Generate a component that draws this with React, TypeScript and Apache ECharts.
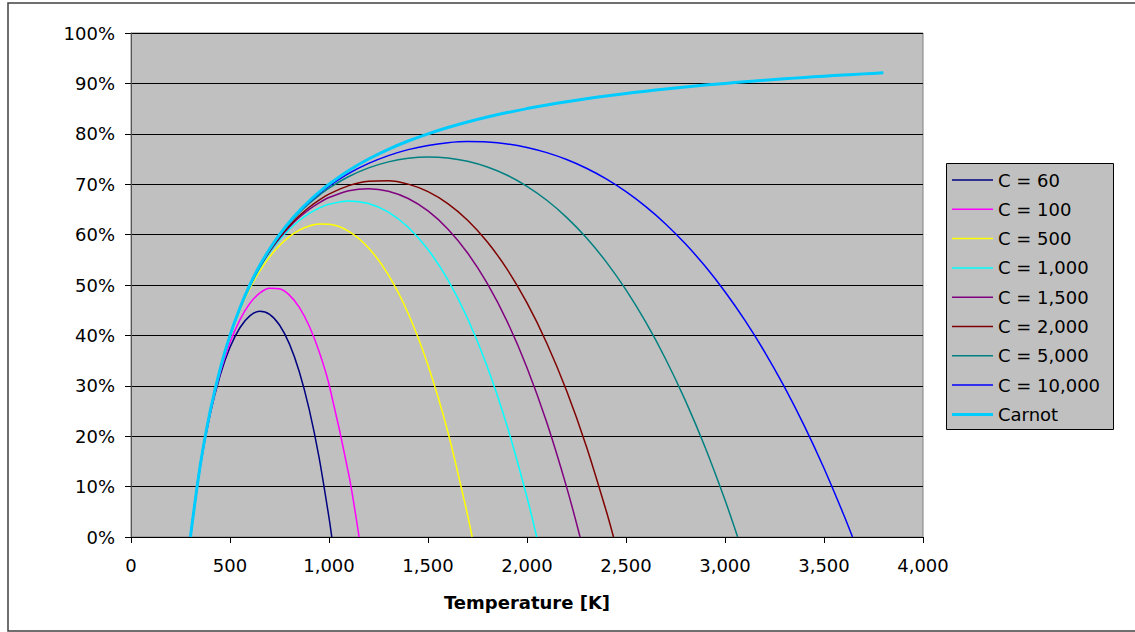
import React, { useEffect, useRef } from "react";
import * as echarts from "echarts";

const temps = [300, 350, 400, 450, 500, 550, 600, 650, 700, 750, 800, 850, 900, 950, 1000,
  1100, 1200, 1300, 1400, 1500, 1600, 1700, 1800, 1900, 2000, 2100, 2200, 2300, 2400, 2500,
  2600, 2700, 2800, 2900, 3000, 3100, 3200, 3300, 3400, 3500, 3600, 3700, 3800];

const c60 = [0, 0.1409, 0.2440, 0.3204, 0.3764, 0.4152, 0.4388, 0.4477, 0.4418, 0.4206, 0.3831, 0.3279, 0.2533, 0.1576, 0.0385];
const c100 = [0, 0.1417, 0.2464, 0.3256, 0.3858, 0.4309, 0.4633, 0.4840, 0.4936, 0.4924, 0.4799, 0.4556, 0.4187, 0.3682, 0.3031, 0.1236];
const c500 = [0, 0.1427, 0.2493, 0.3318, 0.3972, 0.4498, 0.4927, 0.5276, 0.5559, 0.5785, 0.5960, 0.6088, 0.6171, 0.6210, 0.6206,
  0.6066, 0.5736, 0.5201, 0.4434, 0.3407, 0.2087, 0.0435];
const c1000 = [0, 0.1428, 0.2496, 0.3325, 0.3986, 0.4521, 0.4963, 0.5330, 0.5636, 0.5892, 0.6105, 0.6279, 0.6419, 0.6526, 0.6603,
  0.6669, 0.6618, 0.6446, 0.6146, 0.5704, 0.5106, 0.4335, 0.3373, 0.2199, 0.0789];
const c1500 = [0, 0.1428, 0.2498, 0.3328, 0.3991, 0.4529, 0.4976, 0.5349, 0.5662, 0.5928, 0.6153, 0.6343, 0.6502, 0.6631, 0.6735,
  0.6870, 0.6912, 0.6862, 0.6716, 0.6469, 0.6112, 0.5635, 0.5026, 0.4273, 0.3359, 0.2270, 0.0989];
const c2000 = [0, 0.1428, 0.2498, 0.3329, 0.3993, 0.4533, 0.4982, 0.5358, 0.5675, 0.5946, 0.6177, 0.6375, 0.6543, 0.6684, 0.6802,
  0.6971, 0.7059, 0.7069, 0.7001, 0.6852, 0.6615, 0.6285, 0.5853, 0.5310, 0.4644, 0.3845, 0.2901, 0.1797, 0.0520];
const c5000 = [0, 0.1429, 0.2499, 0.3332, 0.3997, 0.4540, 0.4993, 0.5374, 0.5698, 0.5978, 0.6221, 0.6433, 0.6617, 0.6779, 0.6921,
  0.7152, 0.7324, 0.7443, 0.7515, 0.7541, 0.7521, 0.7455, 0.7341, 0.7177, 0.6958, 0.6681, 0.6342, 0.5936, 0.5458, 0.4902,
  0.4262, 0.3532, 0.2705, 0.1775, 0.0733];
const c10000 = [0, 0.1429, 0.2500, 0.3333, 0.3999, 0.4543, 0.4996, 0.5380, 0.5706, 0.5989, 0.6235, 0.6452, 0.6642, 0.6810, 0.6960,
  0.7213, 0.7412, 0.7567, 0.7686, 0.7770, 0.7823, 0.7845, 0.7837, 0.7799, 0.7729, 0.7626, 0.7489, 0.7316, 0.7104, 0.6851,
  0.6554, 0.6211, 0.5817, 0.5370, 0.4866, 0.4302, 0.3675, 0.2978, 0.2209, 0.1364, 0.0437];
const carnot = [0, 0.1429, 0.25, 0.3333, 0.4, 0.4545, 0.5, 0.5385, 0.5714, 0.6, 0.625, 0.6471, 0.6667, 0.6842, 0.7,
  0.7273, 0.75, 0.7692, 0.7857, 0.8, 0.8125, 0.8235, 0.8333, 0.8421, 0.85, 0.8571, 0.8636, 0.8696, 0.875, 0.88,
  0.8846, 0.8889, 0.8929, 0.8966, 0.9, 0.9032, 0.9063, 0.9091, 0.9118, 0.9143, 0.9167, 0.9189, 0.9211];

// temperature at which each curve reaches 0 %
const zeroTemps = [1014, 1152, 1723, 2049, 2268, 2437, 3064, 3644, null];

const seriesNames = ["C = 60", "C = 100", "C = 500", "C = 1,000", "C = 1,500", "C = 2,000", "C = 5,000", "C = 10,000", "Carnot"];
const seriesValues = [c60, c100, c500, c1000, c1500, c2000, c5000, c10000, carnot];
const seriesColors = ["#000080", "#ff00ff", "#ffff00", "#00ffff", "#800080", "#800000", "#008080", "#0000ff", "#00ccff"];

const FONT = "DejaVu Sans";

export default function App() {
  const ref = useRef<HTMLDivElement>(null);
  useEffect(() => {
    if (!ref.current) return;
    const chart = echarts.init(ref.current, undefined, { renderer: "svg" });
    const series = seriesValues.map((vals, si) => {
      const data: number[][] = vals.map((v, i) => [temps[i], v]);
      const z = zeroTemps[si];
      if (z !== null) data.push([z, 0]);
      return {
        name: seriesNames[si],
        type: "line",
        data,
        symbol: "none",
        smooth: 0.3,
        lineStyle: { color: seriesColors[si], width: si === 8 ? 3 : 1.5 },
        itemStyle: { color: seriesColors[si] },
        z: 3 + si,
      };
    });
    const legendTop = 180;
    const legendPitch = 29.3;
    const legendGraphics: any[] = [
      {
        type: "rect", z: 1, silent: true,
        shape: { x: 946.5, y: 163.5, width: 167, height: 266 },
        style: { fill: "#c0c0c0", stroke: "#000", lineWidth: 1 },
      },
    ];
    seriesNames.forEach((name, i) => {
      const y = legendTop + i * legendPitch;
      legendGraphics.push({
        type: "line", z: 2, silent: true,
        shape: { x1: 952, y1: y, x2: 993, y2: y },
        style: { stroke: seriesColors[i], lineWidth: i === 8 ? 3 : 1.5 },
      });
      legendGraphics.push({
        type: "text", z: 2, silent: true,
        x: 998, y,
        style: { text: name, fill: "#000", font: `18px "${FONT}"`, textVerticalAlign: "middle", verticalAlign: "middle" },
      });
    });
    chart.setOption({
      animation: false,
      textStyle: { fontFamily: FONT },
      grid: {
        left: 131, right: 212, top: 33, bottom: 95,
        show: true, backgroundColor: "#c0c0c0", borderColor: "#808080", borderWidth: 1,
      },
      xAxis: {
        type: "value", min: 0, max: 4000, interval: 500,
        name: "Temperature [K]", nameLocation: "middle", nameGap: 56,
        nameTextStyle: { fontFamily: FONT, fontSize: 18, fontWeight: "bold", color: "#000" },
        axisLine: { show: true, onZero: false, lineStyle: { color: "#000", width: 1 } },
        axisTick: { show: true, length: 6, lineStyle: { color: "#000" } },
        axisLabel: {
          fontFamily: FONT, fontSize: 18, color: "#000", margin: 19,
          formatter: (v: number) => v.toLocaleString("en-US"),
        },
        splitLine: { show: false },
      },
      yAxis: {
        type: "value", min: 0, max: 1, interval: 0.1,
        axisLine: { show: true, lineStyle: { color: "#555", width: 1 } },
        axisTick: { show: true, length: 6, lineStyle: { color: "#000" } },
        axisLabel: {
          fontFamily: FONT, fontSize: 18, color: "#000", margin: 16,
          formatter: (v: number) => Math.round(v * 100) + "%",
        },
        splitLine: { show: true, lineStyle: { color: "#000", width: 1 } },
      },
      graphic: [
        {
          type: "rect", z: 0, silent: true,
          shape: { x: 8, y: 3, width: 1140, height: 628 },
          style: { fill: "none", stroke: "#404040", lineWidth: 1.5 },
        },
        ...legendGraphics,
      ],
      series,
    });
    return () => chart.dispose();
  }, []);
  return <div ref={ref} style={{ position: "absolute", left: 0, top: 0, width: 1135, height: 632 }} />;
}
